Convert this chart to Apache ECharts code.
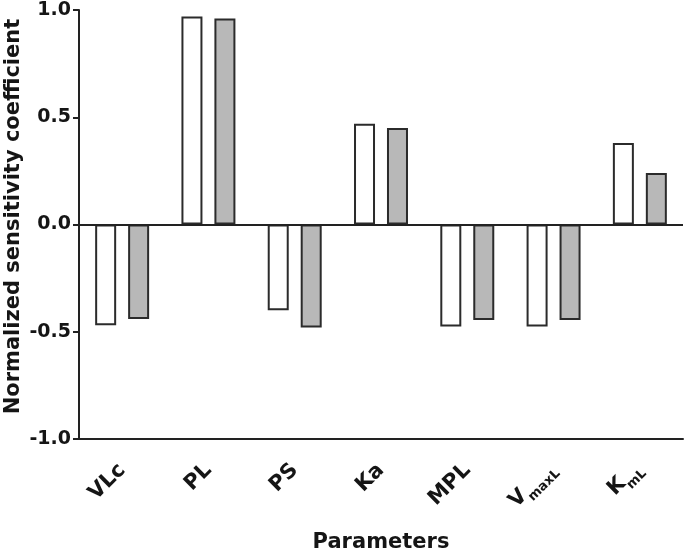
<!DOCTYPE html>
<html>
<head>
<meta charset="utf-8">
<script src="https://cdn.jsdelivr.net/npm/echarts@6/dist/echarts.min.js"></script>
<style>
html,body{margin:0;padding:0;background:#fff;}
#chart{width:685px;height:555px;}
</style>
</head>
<body>
<div id="chart"></div>
<script>
const categories = ['VLc', 'PL', 'PS', 'Ka', 'MPL', 'VmaxL', 'KmL'];
const categoryLabels = ['{b|VLc}', '{b|PL}', '{b|PS}', '{b|Ka}', '{b|MPL}', '{m|V}{s|maxL}', '{m|K}{s|mL}'];
const seriesA = [-0.47, 0.97, -0.40, 0.47, -0.475, -0.475, 0.38];
const seriesB = [-0.44, 0.96, -0.48, 0.45, -0.445, -0.445, 0.24];
const yTicks = [-1.0, -0.5, 0.0, 0.5, 1.0];

const FONT = 'DejaVu Sans';
const DARK = '#222222';
const TEXT = '#151515';
const chart = echarts.init(document.getElementById('chart'), null, {renderer: 'canvas'});
const option = {
  animation: false,
  backgroundColor: '#ffffff',
  grid: {left: 79, right: 2, top: 10, bottom: 116, containLabel: false, outerBoundsMode: 'none'},
  xAxis: {
    type: 'category',
    data: categories,
    boundaryGap: true,
    name: 'Parameters',
    nameLocation: 'middle',
    nameGap: 93,
    nameMoveOverlap: false,
    nameTextStyle: {fontFamily: FONT, fontWeight: 'bold', fontSize: 21, color: TEXT},
    axisLine: {onZero: false, lineStyle: {color: DARK, width: 2}},
    axisTick: {alignWithLabel: true, length: 6, lineStyle: {color: DARK, width: 2}},
    axisLabel: {
      rotate: 45,
      margin: 28,
      formatter: (v, i) => categoryLabels[i],
      rich: {
        b: {fontFamily: FONT, fontWeight: 'bold', fontSize: 21, color: TEXT},
        m: {fontFamily: FONT, fontWeight: 'bold', fontSize: 21, color: TEXT, verticalAlign: 'bottom', padding: [0, 0, 5, 0]},
        s: {fontFamily: FONT, fontWeight: 'bold', fontSize: 13, color: TEXT, verticalAlign: 'bottom'}
      }
    },
    splitLine: {show: false}
  },
  yAxis: {
    type: 'value',
    min: yTicks[0],
    max: yTicks[yTicks.length - 1],
    interval: 0.5,
    name: 'Normalized sensitivity coefficient',
    nameLocation: 'middle',
    nameGap: 55,
    nameMoveOverlap: false,
    nameTextStyle: {fontFamily: FONT, fontWeight: 'bold', fontSize: 21, color: TEXT, padding: [0, 0, 0, 16]},
    axisLine: {show: true, lineStyle: {color: DARK, width: 2}},
    axisTick: {show: true, length: 6, lineStyle: {color: DARK, width: 2}},
    axisLabel: {
      margin: 8,
      fontFamily: FONT, fontWeight: 'bold', fontSize: 19, color: TEXT,
      formatter: v => v.toFixed(1)
    },
    splitLine: {show: false}
  },
  series: [
    {
      type: 'bar',
      data: seriesA,
      barWidth: 21,
      barGap: '57%',
      itemStyle: {color: '#ffffff', borderColor: '#2b2b2b', borderWidth: 2},
      markLine: {
        silent: true,
        symbol: 'none',
        label: {show: false},
        lineStyle: {color: DARK, width: 2, type: 'solid'},
        data: [{yAxis: 0}]
      }
    },
    {
      type: 'bar',
      data: seriesB,
      barWidth: 21,
      barGap: '57%',
      itemStyle: {color: '#b8b8b8', borderColor: '#2b2b2b', borderWidth: 2}
    }
  ]
};
chart.setOption(option);
</script>
</body>
</html>
